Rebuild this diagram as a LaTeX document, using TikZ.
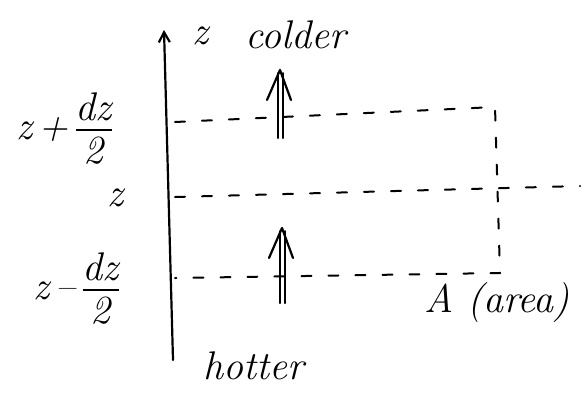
\documentclass[tikz,border=0pt]{standalone}
\usepackage{fontspec}
\usetikzlibrary{arrows.meta}
\newcommand{\hfr}[2]{\begin{tabular}[c]{@{}c@{}}\itshape #1\\[-4pt]\hline\rule{0pt}{32pt}#2\end{tabular}}
\begin{document}
\begin{tikzpicture}[x=1pt,y=-1pt,line cap=round,line join=round,
  lbl/.style={inner sep=0pt,font=\fontsize{40}{44}\selectfont},
  dash line/.style={dash pattern=on 10pt off 17pt,line width=2pt},
  shaft/.style={line width=2pt},
  head/.style={line width=2.2pt}]
\useasboundingbox (0,0) rectangle (585,392);
\setlength{\arrayrulewidth}{2pt}
\setlength{\tabcolsep}{0pt}
% axis
\coordinate (axb) at (173,360);
\coordinate (axt) at (164,30);
\draw[line width=2.2pt,-{Straight Barb[length=10pt,width=11pt,line width=2.2pt]}] (axb) -- (axt);
% levels
\coordinate (t0) at (175,122);
\coordinate (m0) at (175,197);
\coordinate (b0) at (175,278);
\coordinate (t1) at (495,107);
\coordinate (b1) at (500,273);
\coordinate (m2) at (580,186);
\draw[dash line] (t0) -- (t1) -- (b1) -- (b0);
\draw[dash line] (m0) -- (m2);
% labels
\node[lbl] (zc) at (200,36) {\itshape z};
\node[lbl,anchor=base west] (colder) at (245,48) {\itshape colder};
\node[lbl] (zp) at (64,133) {\itshape z\,+\,\hfr{dz}{2}};
\node[lbl] (zm) at (115,198) {\itshape z};
\node[lbl] (zn) at (76,293) {\itshape z\,–\,\hfr{dz}{2}};
\node[lbl] (hot) at (254,366) {\itshape hotter};
\node[lbl] (area) at (497,303) {\itshape A (area)};
% flux arrows (double shaft)
\coordinate (f1b) at (280,138);
\coordinate (f1t) at (280,70);
\coordinate (f2b) at (282,303);
\coordinate (f2t) at (282,228);
\foreach \b/\t in {f1b/f1t,f2b/f2t}{
  \draw[shaft] ([xshift=-2.5pt]\b) -- ([xshift=-2.5pt,yshift=-3pt]\t);
  \draw[shaft] ([xshift=2.5pt]\b) -- ([xshift=2.5pt,yshift=-3pt]\t);
  \draw[head] ([xshift=-13pt,yshift=-30pt]\t) -- (\t) -- ([xshift=11pt,yshift=-30pt]\t);
}
\end{tikzpicture}
\end{document}
